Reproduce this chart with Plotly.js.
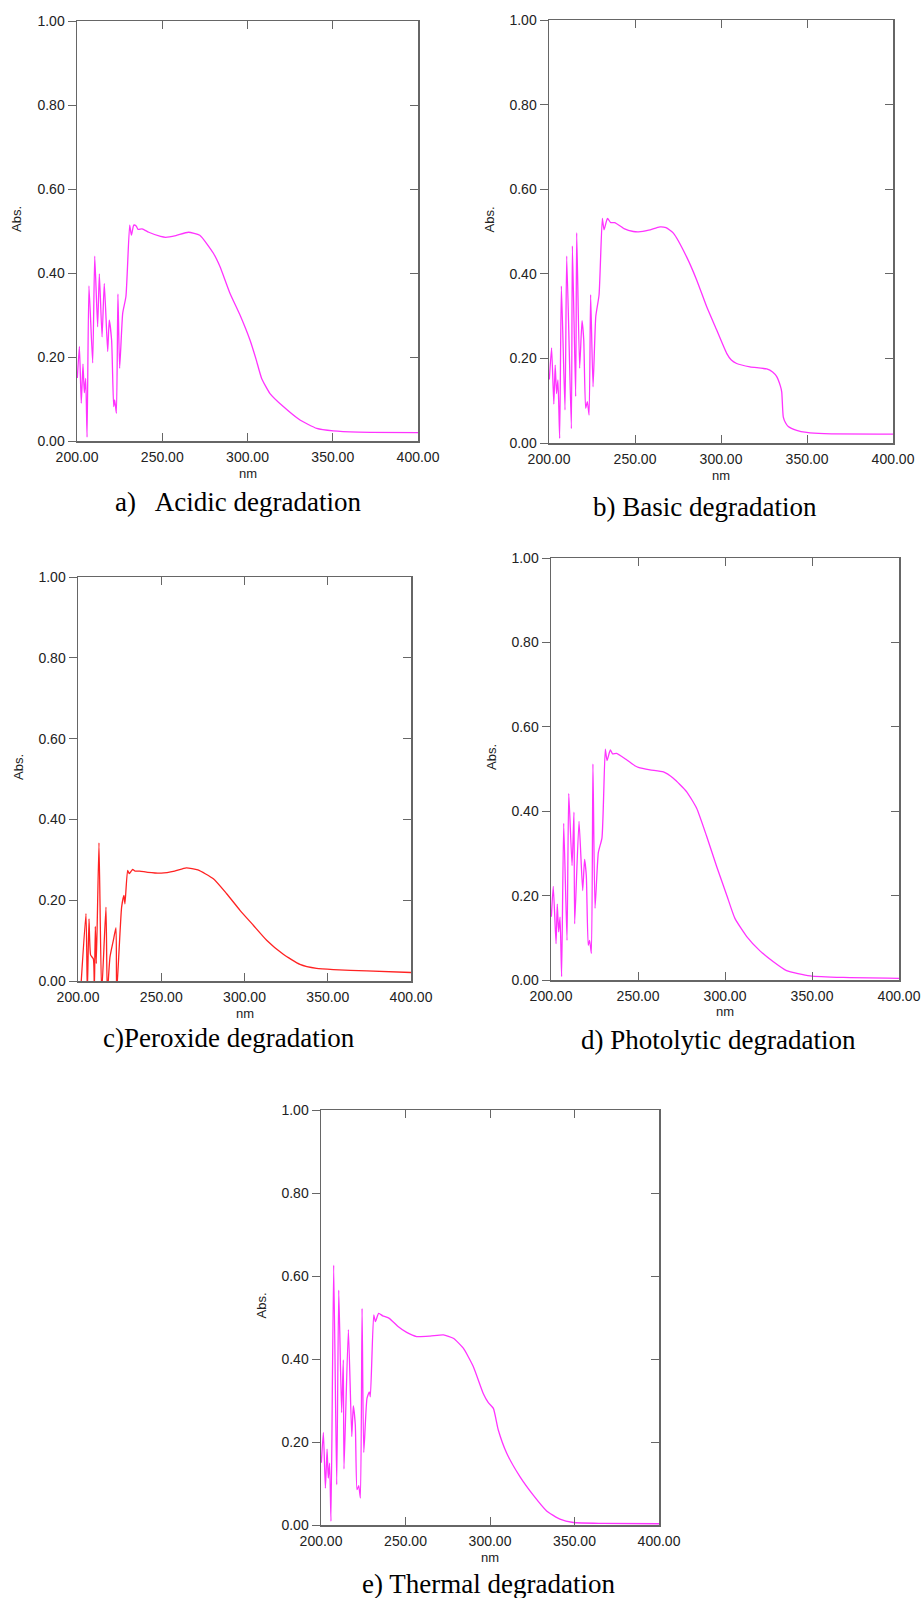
<!DOCTYPE html>
<html>
<head>
<meta charset="utf-8">
<script src="https://cdn.plot.ly/plotly-3.0.1.min.js"></script>
<style>html,body{margin:0;padding:0;background:#fff;}#chart{width:921px;height:1598px;}</style>
</head>
<body>
<div id="chart"></div>
<script>
// ---------------- DATA ----------------
const xTickVals = [200, 250, 300, 350, 400];
const xTickText = ["200.00", "250.00", "300.00", "350.00", "400.00"];
const yTickVals = [0, 0.2, 0.4, 0.6, 0.8, 1.0];
const yTickText = ["0.00", "0.20", "0.40", "0.60", "0.80", "1.00"];
const xLabel = "nm";
const yLabel = "Abs.";
const captions = ["a)   Acidic degradation", "b) Basic degradation", "c)Peroxide degradation", "d) Photolytic degradation", "e) Thermal degradation"];

const wlA = [200.2,201.4,202.5,203.5,204.3,205.1,205.9,207.0,209.2,210.4,212.1,213.1,214.7,216.0,218.0,218.9,220.3,221.5,222.1,223.1,224.0,225.0,226.8,228.7,230.9,231.9,233.3,234.7,235.8,238.2,242.1,249.0,252.0,258.0,265.3,272.0,280.0,283.9,289.7,295.6,301.5,305.0,308.3,313.2,321.0,330.8,340.6,350.3,365.0,400.0];
const absA = [0.150,0.225,0.090,0.183,0.115,0.149,0.009,0.369,0.186,0.440,0.272,0.398,0.248,0.375,0.213,0.288,0.240,0.082,0.098,0.066,0.350,0.173,0.304,0.344,0.514,0.490,0.514,0.512,0.504,0.505,0.497,0.487,0.485,0.489,0.497,0.490,0.447,0.415,0.352,0.300,0.240,0.195,0.149,0.113,0.082,0.050,0.030,0.024,0.021,0.020];

const wlB = [200.2,201.5,202.8,203.6,204.4,205.2,206.2,207.2,209.3,210.3,213.0,213.6,215.5,216.1,217.8,219.2,220.2,221.3,222.3,223.3,224.2,225.6,227.2,229.1,231.0,232.0,234.0,235.9,238.2,243.6,249.0,252.0,258.0,264.5,268.0,272.3,280.0,285.9,291.7,297.5,303.3,306.0,309.1,316.9,326.6,330.0,332.4,334.5,335.3,336.2,337.5,339.1,344.0,349.8,360.0,400.0];
const absB = [0.150,0.225,0.092,0.184,0.117,0.149,0.011,0.371,0.078,0.442,0.034,0.466,0.110,0.497,0.177,0.289,0.244,0.082,0.098,0.066,0.351,0.133,0.299,0.350,0.531,0.504,0.531,0.521,0.521,0.507,0.500,0.499,0.503,0.511,0.509,0.496,0.440,0.385,0.322,0.267,0.212,0.196,0.188,0.180,0.175,0.168,0.157,0.135,0.121,0.062,0.048,0.039,0.030,0.025,0.022,0.021];

const wlC = [201.5,204.8,205.6,206.6,207.6,209.2,209.8,210.4,211.0,212.6,214.2,216.8,217.6,219.2,221.2,222.8,223.2,226.2,227.6,228.2,229.8,230.8,232.8,234.2,237.0,242.0,250.0,258.0,265.0,272.0,281.3,289.3,297.3,305.3,313.3,323.3,333.3,343.3,353.4,373.4,400.0];
const absC = [-0.03,0.167,-0.03,0.154,0.064,0.055,-0.03,0.135,0.043,0.342,-0.03,0.183,-0.03,0.059,0.100,0.132,-0.03,0.183,0.212,0.191,0.274,0.266,0.276,0.272,0.272,0.269,0.267,0.272,0.280,0.275,0.253,0.216,0.175,0.138,0.101,0.066,0.041,0.031,0.028,0.025,0.021];

const wlD = [200.2,201.3,202.9,203.6,204.4,205.2,206.1,207.3,209.2,210.2,212.1,213.2,213.6,216.1,218.2,219.3,220.3,221.4,222.2,223.2,224.1,225.3,227.2,229.3,231.2,232.2,234.1,235.4,237.7,243.1,248.5,250.2,256.9,264.6,270.3,278.0,283.7,289.5,295.2,301.0,305.7,312.5,320.1,327.8,335.4,348.9,368.0,400.0];
const absD = [0.150,0.222,0.086,0.180,0.114,0.149,0.008,0.371,0.094,0.442,0.271,0.398,0.133,0.376,0.212,0.286,0.247,0.082,0.094,0.063,0.512,0.170,0.302,0.337,0.547,0.520,0.545,0.536,0.537,0.523,0.507,0.504,0.498,0.493,0.478,0.446,0.407,0.340,0.269,0.201,0.146,0.103,0.069,0.043,0.022,0.010,0.006,0.004];

const wlE = [200.2,201.4,202.6,203.6,204.3,205.1,205.9,207.5,209.3,210.5,212.2,213.2,213.6,216.2,218.2,219.1,220.3,221.3,222.3,223.3,224.3,225.3,227.2,228.6,229.2,231.2,232.2,234.1,236.5,240.4,245.4,250.7,256.6,264.5,272.4,278.3,284.2,290.1,296.0,299.0,302.0,304.9,309.9,317.8,325.6,333.5,341.4,349.3,366.7,400.0];
const absE = [0.150,0.223,0.089,0.183,0.113,0.149,0.009,0.626,0.097,0.566,0.271,0.398,0.135,0.471,0.213,0.287,0.241,0.085,0.095,0.065,0.522,0.175,0.305,0.321,0.309,0.506,0.490,0.510,0.504,0.498,0.479,0.464,0.454,0.455,0.458,0.450,0.426,0.382,0.317,0.295,0.281,0.229,0.173,0.116,0.072,0.034,0.014,0.006,0.004,0.003];

const seriesX = [wlA, wlB, wlC, wlD, wlE];
const seriesY = [absA, absB, absC, absD, absE];
const colors = ["#ff33ff", "#ff33ff", "#ff2222", "#ff33ff", "#ff33ff"];

// ---------------- LAYOUT (pixel boxes) ----------------
const W = 921, H = 1598;
const boxes = [ // [left, right, top, bottom] in px
  [77, 418, 21, 441],
  [549, 893, 20, 443],
  [78, 411, 577, 981],
  [551, 899, 558, 980],
  [321, 659, 1110, 1525]
];
const capPos = [[238, 502], [705, 507], [229, 1038], [718, 1040], [488, 1584]];
const px = v => v / W, py = v => 1 - v / H;

const tickFont = {family: "Liberation Sans, Arial, sans-serif", size: 14, color: "#222"};
const axisCol = "#666";
const traces = [];
const layout = {
  width: W, height: H, margin: {l: 0, r: 0, t: 0, b: 0},
  paper_bgcolor: "#fff", plot_bgcolor: "#fff", showlegend: false,
  annotations: []
};

boxes.forEach((b, i) => {
  const n = i + 1;
  const xs = n === 1 ? "" : String(n);
  const ys = n === 1 ? "" : String(n);
  const yr = String(n + 5);
  traces.push({
    x: seriesX[i], y: seriesY[i], type: "scatter", mode: "lines",
    line: {color: colors[i], width: 1.3, shape: "spline", smoothing: 0.5},
    xaxis: "x" + xs, yaxis: "y" + ys, hoverinfo: "skip"
  });
  // empty trace so the right-side tick axis is drawn
  traces.push({x: [], y: [], type: "scatter", mode: "lines", xaxis: "x" + xs, yaxis: "y" + yr, hoverinfo: "skip"});
  layout["xaxis" + xs] = {
    domain: [px(b[0]), px(b[1])], anchor: "y" + ys, range: [200, 400],
    tickvals: xTickVals, ticktext: xTickText, ticks: "inside", ticklen: 8, tickwidth: 1,
    tickcolor: axisCol, showline: true, linecolor: axisCol, linewidth: 1.5, mirror: "ticks",
    showgrid: false, zeroline: false, tickfont: tickFont, fixedrange: true, ticklabelstandoff: 3
  };
  layout["yaxis" + ys] = {
    domain: [py(b[3]), py(b[2])], anchor: "x" + xs, range: [0, 1],
    tickvals: yTickVals, ticktext: yTickText, ticks: "outside", ticklen: 8, tickwidth: 1,
    tickcolor: axisCol, showline: true, linecolor: axisCol, linewidth: 1.5, mirror: true,
    showgrid: false, zeroline: false, tickfont: tickFont, fixedrange: true
  };
  layout["yaxis" + yr] = {
    domain: [py(b[3]), py(b[2])], anchor: "x" + xs, overlaying: "y" + ys, side: "right",
    range: [0, 1], tickvals: yTickVals, ticks: "inside", ticklen: 8, tickwidth: 1,
    tickcolor: axisCol, showticklabels: false, showline: false, showgrid: false,
    zeroline: false, fixedrange: true
  };
  layout.annotations.push({
    text: yLabel, xref: "paper", yref: "paper", x: px(b[0] - 60), y: py((b[2] + b[3]) / 2 - 12),
    xanchor: "center", yanchor: "middle", textangle: -90, showarrow: false,
    font: {family: "Liberation Sans, Arial, sans-serif", size: 13, color: "#222"}
  });
  layout.annotations.push({
    text: xLabel, xref: "paper", yref: "paper", x: px((b[0] + b[1]) / 2), y: py(b[3] + 32),
    xanchor: "center", yanchor: "middle", showarrow: false,
    font: {family: "Liberation Sans, Arial, sans-serif", size: 13, color: "#222"}
  });
  layout.annotations.push({
    text: captions[i], xref: "paper", yref: "paper", x: px(capPos[i][0]), y: py(capPos[i][1]),
    xanchor: "center", yanchor: "middle", showarrow: false,
    font: {family: "Liberation Serif, Times New Roman, serif", size: 27, color: "#000"}
  });
});

Plotly.newPlot("chart", traces, layout, {staticPlot: true, displayModeBar: false});
</script>
</body>
</html>
